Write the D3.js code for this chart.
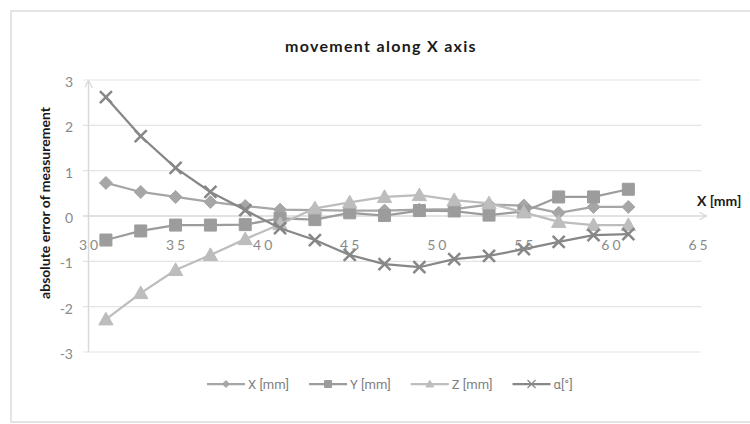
<!DOCTYPE html>
<html>
  <head>
    <script src="https://d3js.org/d3.v7.min.js" charset="utf-8"></script>
    <style type="text/css">
      body {
        margin: 0;
        padding: 0;
        background: #fff;
      }
      .title {
        font-family: Lato, 'Open Sans', sans-serif;
        font-weight: bold;
        font-size: 16px;
        letter-spacing: 1.3px;
        fill: #1a1a1a;
      }
      .label {
        font-family: Lato, 'Open Sans', sans-serif;
        font-weight: bold;
        font-size: 14px;
        fill: #1a1a1a;
      }
      .tick-y {
        font-family: Lato, 'Open Sans', sans-serif;
        font-size: 14px;
        fill: #8a8a8a;
      }
      .tick-x {
        font-family: Lato, 'Open Sans', sans-serif;
        font-size: 14px;
        letter-spacing: 3px;
        fill: #8a8a8a;
      }
      .legend text {
        font-family: Roboto, sans-serif;
        font-size: 13px;
        fill: #7f7f7f;
      }
    </style>
  </head>
  <body>
    <div id="chart"></div>
    <script type="text/javascript">

    // data
    var positions = [31, 33, 35, 37, 39, 41, 43, 45, 47, 49, 51, 53, 55, 57, 59, 61];
    var errX = [0.73, 0.53, 0.42, 0.31, 0.22, 0.14, 0.13, 0.12, 0.12, 0.14, 0.15, 0.25, 0.23, 0.07, 0.2, 0.2];
    var errY = [-0.53, -0.33, -0.2, -0.2, -0.19, -0.05, -0.08, 0.07, 0.01, 0.12, 0.11, 0.02, 0.1, 0.42, 0.42, 0.59];
    var errZ = [-2.28, -1.7, -1.19, -0.86, -0.51, -0.18, 0.17, 0.3, 0.42, 0.46, 0.35, 0.28, 0.08, -0.13, -0.2, -0.2];
    var errAlpha = [2.62, 1.76, 1.06, 0.53, 0.13, -0.27, -0.53, -0.86, -1.06, -1.13, -0.95, -0.88, -0.73, -0.57, -0.42, -0.4];

    var seriesNames = ["X [mm]", "Y [mm]", "Z [mm]", "\u03b1[\u00b0]"];
    var yTicks = [-3, -2, -1, 0, 1, 2, 3];
    var xTicks = [30, 35, 40, 45, 50, 55, 60, 65];

    var series = [
      { name: seriesNames[0], values: errX, color: "#a6a6a6", shape: "diamond" },
      { name: seriesNames[1], values: errY, color: "#9c9c9c", shape: "square" },
      { name: seriesNames[2], values: errZ, color: "#bdbdbd", shape: "triangle" },
      { name: seriesNames[3], values: errAlpha, color: "#878787", shape: "cross" }
    ];

    var canvas_width = 750;
    var canvas_height = 424;

    var svg = d3.select("#chart")
      .append("svg")
      .attr("width", canvas_width)
      .attr("height", canvas_height);

    // chart frame (runs off the right edge like the original)
    svg.append("rect")
      .attr("x", 11)
      .attr("y", 11)
      .attr("width", 760)
      .attr("height", 411)
      .attr("fill", "none")
      .attr("stroke", "#dcdcdc")
      .attr("stroke-width", 1.5);

    var xScale = d3.scaleLinear()
      .domain([30, 65])
      .range([88.5, 698]);

    var yScale = d3.scaleLinear()
      .domain([-3, 3])
      .range([352, 80]);

    // arrow head
    svg.append("defs").append("marker")
      .attr("id", "arrow")
      .attr("viewBox", "0 0 10 10")
      .attr("refX", 9)
      .attr("refY", 5)
      .attr("markerWidth", 8)
      .attr("markerHeight", 8)
      .attr("markerUnits", "userSpaceOnUse")
      .attr("orient", "auto")
      .append("path")
      .attr("d", "M0,0 L10,5 L0,10")
      .attr("fill", "none")
      .attr("stroke", "#d9d9d9")
      .attr("stroke-width", 1.5);

    // gridlines
    svg.append("g")
      .selectAll("line")
      .data(yTicks.filter(function (d) { return d !== 0; }))
      .enter()
      .append("line")
      .attr("x1", 83)
      .attr("x2", 701)
      .attr("y1", function (d) { return yScale(d); })
      .attr("y2", function (d) { return yScale(d); })
      .attr("stroke", "#e3e3e3")
      .attr("stroke-width", 1.2);

    // axes with arrows
    svg.append("line")
      .attr("x1", 83)
      .attr("x2", 706)
      .attr("y1", yScale(0))
      .attr("y2", yScale(0))
      .attr("stroke", "#d9d9d9")
      .attr("stroke-width", 1.5)
      .attr("marker-end", "url(#arrow)");

    svg.append("line")
      .attr("x1", xScale(30))
      .attr("x2", xScale(30))
      .attr("y1", yScale(-3))
      .attr("y2", 81)
      .attr("stroke", "#d9d9d9")
      .attr("stroke-width", 1.5)
      .attr("marker-end", "url(#arrow)");

    // tick labels
    svg.append("g")
      .selectAll("text")
      .data(yTicks)
      .enter()
      .append("text")
      .attr("class", "tick-y")
      .attr("x", 73)
      .attr("y", function (d) { return yScale(d) + 2; })
      .attr("dy", "0.35em")
      .style("text-anchor", "end")
      .text(function (d) { return d; });

    svg.append("g")
      .selectAll("text")
      .data(xTicks)
      .enter()
      .append("text")
      .attr("class", "tick-x")
      .attr("x", function (d) { return xScale(d) + 1.5; })
      .attr("y", yScale(0) + 34)
      .style("text-anchor", "middle")
      .text(function (d) { return d; });

    // titles
    svg.append("text")
      .attr("class", "title")
      .attr("x", 381)
      .attr("y", 52)
      .style("text-anchor", "middle")
      .text("movement along X axis");

    svg.append("text")
      .attr("class", "label")
      .attr("transform", "translate(50,203) rotate(-90)")
      .style("text-anchor", "middle")
      .text("absolute error of measurement");

    svg.append("text")
      .attr("class", "label")
      .attr("x", 697)
      .attr("y", 206)
      .text("X [mm]");

    // marker shapes
    function markerPath(shape, s) {
      if (shape === "diamond") return "M0," + (-s) + "L" + s + ",0L0," + s + "L" + (-s) + ",0Z";
      if (shape === "square") return "M" + (-s) + "," + (-s) + "h" + (2 * s) + "v" + (2 * s) + "h" + (-2 * s) + "Z";
      if (shape === "triangle") return "M0," + (-s * 1.1) + "L" + (s * 1.1) + "," + (s * 0.85) + "L" + (-s * 1.1) + "," + (s * 0.85) + "Z";
      return "M" + (-s) + "," + (-s) + "L" + s + "," + s + "M" + (-s) + "," + s + "L" + s + "," + (-s);
    }
    var markerSize = { diamond: 6.5, square: 6, triangle: 6.5, cross: 6 };

    var line = d3.line()
      .x(function (d) { return xScale(d.x); })
      .y(function (d) { return yScale(d.y); });

    series.forEach(function (s) {
      var pts = positions.map(function (x, i) { return { x: x, y: s.values[i] }; });
      var g = svg.append("g");
      g.append("path")
        .datum(pts)
        .attr("d", line)
        .attr("fill", "none")
        .attr("stroke", s.color)
        .attr("stroke-width", 2.25)
        .attr("stroke-linejoin", "round");
      g.selectAll("path.pt")
        .data(pts)
        .enter()
        .append("path")
        .attr("class", "pt")
        .attr("transform", function (d) { return "translate(" + xScale(d.x) + "," + yScale(d.y) + ")"; })
        .attr("d", markerPath(s.shape, markerSize[s.shape]))
        .attr("fill", s.shape === "cross" ? "none" : s.color)
        .attr("stroke", s.color)
        .attr("stroke-width", s.shape === "cross" ? 2.5 : 1);
    });

    // legend
    var legend = svg.append("g").attr("class", "legend");
    var lx = 207;
    series.forEach(function (s) {
      var item = legend.append("g").attr("transform", "translate(" + lx + ",384)");
      item.append("line")
        .attr("x1", 0).attr("x2", 38)
        .attr("y1", 0).attr("y2", 0)
        .attr("stroke", s.color)
        .attr("stroke-width", 2.25);
      item.append("path")
        .attr("transform", "translate(19,0)")
        .attr("d", markerPath(s.shape, s.shape === "cross" ? 4 : 3.5))
        .attr("fill", s.shape === "cross" ? "none" : s.color)
        .attr("stroke", s.color)
        .attr("stroke-width", s.shape === "cross" ? 1.2 : 1);
      var t = item.append("text")
        .attr("x", 41)
        .attr("dy", "0.35em")
        .text(s.name);
      lx += 41 + t.node().getComputedTextLength() + 20;
    });

    </script>
  </body>
</html>
